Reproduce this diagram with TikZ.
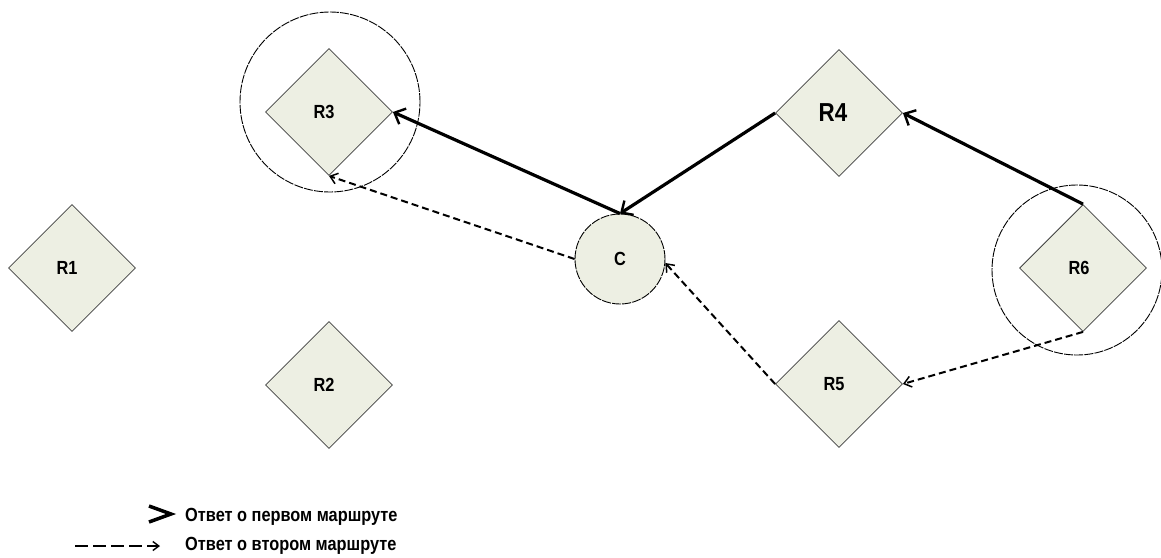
\documentclass[tikz,border=0pt]{standalone}
\usepackage{fontspec}
\newfontfamily\lab[FakeStretch=0.86]{Liberation Sans}
\usetikzlibrary{shapes.geometric,arrows.meta}
\definecolor{nodefill}{RGB}{237,239,227}
\tikzset{
  router/.style={shape=diamond, draw=black!75, line width=0.8pt, fill=nodefill,
    minimum width=127pt, minimum height=127pt, inner sep=0pt,
    font=\lab\bfseries\fontsize{19}{19}\selectfont},
  ring/.style={shape=circle, draw=black, line width=0.9pt, dash pattern=on 9pt off 1.2pt, inner sep=0pt},
  first/.style={draw=black, line width=3.2pt, -{Straight Barb[length=9pt,width=17pt,line width=2.4pt]}},
  second/.style={draw=black, line width=2pt, dash pattern=on 7pt off 4pt, -{Straight Barb[length=7pt,width=11pt,line width=1.5pt]}},
  legtext/.style={anchor=base west, inner sep=0pt, font=\lab\bfseries\fontsize{19}{19}\selectfont}
}
\begin{document}
\begin{tikzpicture}[x=1pt,y=-1pt]
\useasboundingbox (0,0) rectangle (1161,557);
% rings
\node[ring, minimum size=180pt] (R3ring) at (330,102) {};
\node[ring, minimum size=170pt] (R6ring) at (1077,270) {};
% routers
\node[router] (R1) at (72,268) {\kern-10pt R1};
\node[router] (R2) at (329,385) {\kern-10pt R2};
\node[router] (R3) at (329,112) {\kern-10pt R3};
\node[router, font=\lab\bfseries\fontsize{26}{26}\selectfont] (R4) at (839,113) {\kern-12pt R4};
\node[router] (R5) at (839,384) {\kern-10pt R5};
\node[router] (R6) at (1083,268) {\kern-8pt R6};
% client
\node[ring, fill=nodefill, minimum size=90pt, font=\lab\bfseries\fontsize{19}{19}\selectfont] (C) at (620,259) {C};
% first route answers
\draw[first] (C.north) -- (R3.east);
\draw[first] (R4.west) -- (C.north);
\draw[first] (R6.north) -- (R4.east);
% second route answers
\draw[second] (C.west) -- (R3.south);
\draw[second] (R5.west) -- (C.-5);
\draw[second] (R6.south) -- (R5.east);
% legend
\coordinate (L1a) at (149,506);
\coordinate (L1b) at (171,514);
\coordinate (L1c) at (149,522);
\draw[line width=3.5pt, line join=miter] (L1a) -- (L1b) -- (L1c);
\node[legtext] (T1) at (185,521) {Ответ о первом маршруте};
\coordinate (L2a) at (75,546);
\coordinate (L2b) at (160,546);
\draw[line width=2pt, dash pattern=on 13pt off 5pt, -{Straight Barb[length=6pt,width=9pt,line width=1.4pt]}] (L2a) -- (L2b);
\node[legtext] (T2) at (185,550) {Ответ о втором маршруте};
\end{tikzpicture}
\end{document}
